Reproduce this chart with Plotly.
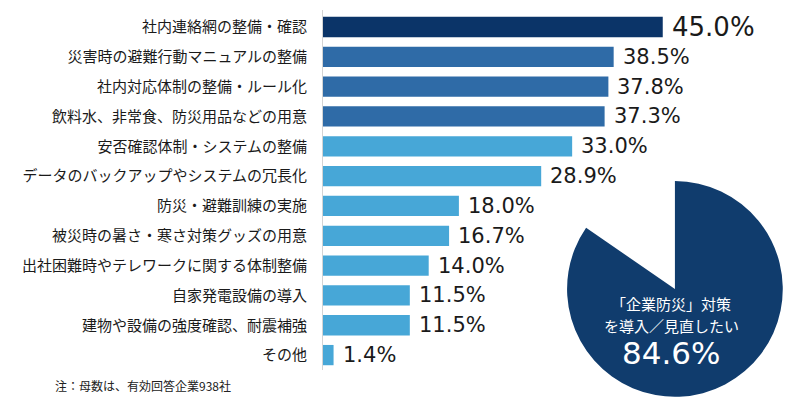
import plotly.graph_objects as go

categories = [
    "社内連絡網の整備・確認",
    "災害時の避難行動マニュアルの整備",
    "社内対応体制の整備・ルール化",
    "飲料水、非常食、防災用品などの用意",
    "安否確認体制・システムの整備",
    "データのバックアップやシステムの冗長化",
    "防災・避難訓練の実施",
    "被災時の暑さ・寒さ対策グッズの用意",
    "出社困難時やテレワークに関する体制整備",
    "自家発電設備の導入",
    "建物や設備の強度確認、耐震補強",
    "その他",
]
values = [45.0, 38.5, 37.8, 37.3, 33.0, 28.9, 18.0, 16.7, 14.0, 11.5, 11.5, 1.4]

pie_labels = ["導入／見直したい", "その他"]
pie_values = [84.6, 15.4]

NAVY = "#0b3468"
MID = "#2f6ba7"
LIGHT = "#47a7d7"
bar_colors = [NAVY] + [MID] * 3 + [LIGHT] * 8
FONT = "Noto Sans CJK JP"
NUM_FONT = "DejaVu Sans"

fig = go.Figure()

fig.add_trace(
    go.Bar(
        x=values,
        y=categories,
        orientation="h",
        marker=dict(color=bar_colors, line=dict(width=0)),
        width=0.68,
        hoverinfo="skip",
    )
)

fig.add_trace(
    go.Pie(
        labels=pie_labels,
        values=pie_values,
        marker=dict(colors=["#103c6d", "rgba(255,255,255,0)"], line=dict(width=0)),
        direction="clockwise",
        sort=False,
        rotation=0,
        textinfo="none",
        hoverinfo="skip",
        showlegend=False,
        domain=dict(x=[0.706, 0.975], y=[0.025, 0.555]),
    )
)

annotations = []
for i, (cat, v) in enumerate(zip(categories, values)):
    annotations.append(
        dict(
            x=v,
            y=cat,
            xref="x",
            yref="y",
            text=f"{v:.1f}%",
            showarrow=False,
            xanchor="left",
            yanchor="middle",
            xshift=7,
            font=dict(family=NUM_FONT, size=26 if i == 0 else 21, color="#1a1a1a"),
        )
    )

# pie caption (paper coords given in pixels from top-left)
def note(px, py, text, size, family, color, xanchor="center"):
    return dict(
        x=px / 803, y=1 - py / 407, xref="paper", yref="paper",
        xanchor=xanchor, yanchor="middle", text=text, showarrow=False,
        font=dict(family=family, size=size, color=color),
    )


annotations += [
    note(671, 303, "「企業防災」対策", 15, FONT, "white"),
    note(671, 325, "を導入／見直したい", 15, FONT, "white"),
    note(671, 353, "84.6%", 31, NUM_FONT, "white"),
    note(53, 385, "注：母数は、有効回答企業938社", 12, FONT, "#222222", xanchor="left"),
]

fig.update_layout(
    width=803,
    height=407,
    margin=dict(l=0, r=0, t=0, b=0),
    paper_bgcolor="white",
    plot_bgcolor="white",
    showlegend=False,
    font=dict(family=FONT),
    xaxis=dict(
        domain=[323 / 803, 1],
        range=[0, 480 / 7.55],
        visible=False,
        fixedrange=True,
    ),
    yaxis=dict(
        domain=[1 - 370 / 407, 1 - 10 / 407],
        autorange="reversed",
        showline=True,
        linecolor="#d4d4d4",
        linewidth=1,
        ticks="",
        showgrid=False,
        ticklabelstandoff=12,
        tickfont=dict(family=FONT, size=15, color="#1a1a1a"),
        automargin=False,
        fixedrange=True,
    ),
    annotations=annotations,
)

fig.write_html(
    "out.html",
    config={"displayModeBar": False},
    post_script="document.body.style.margin='0';document.body.style.overflow='hidden';",
)
